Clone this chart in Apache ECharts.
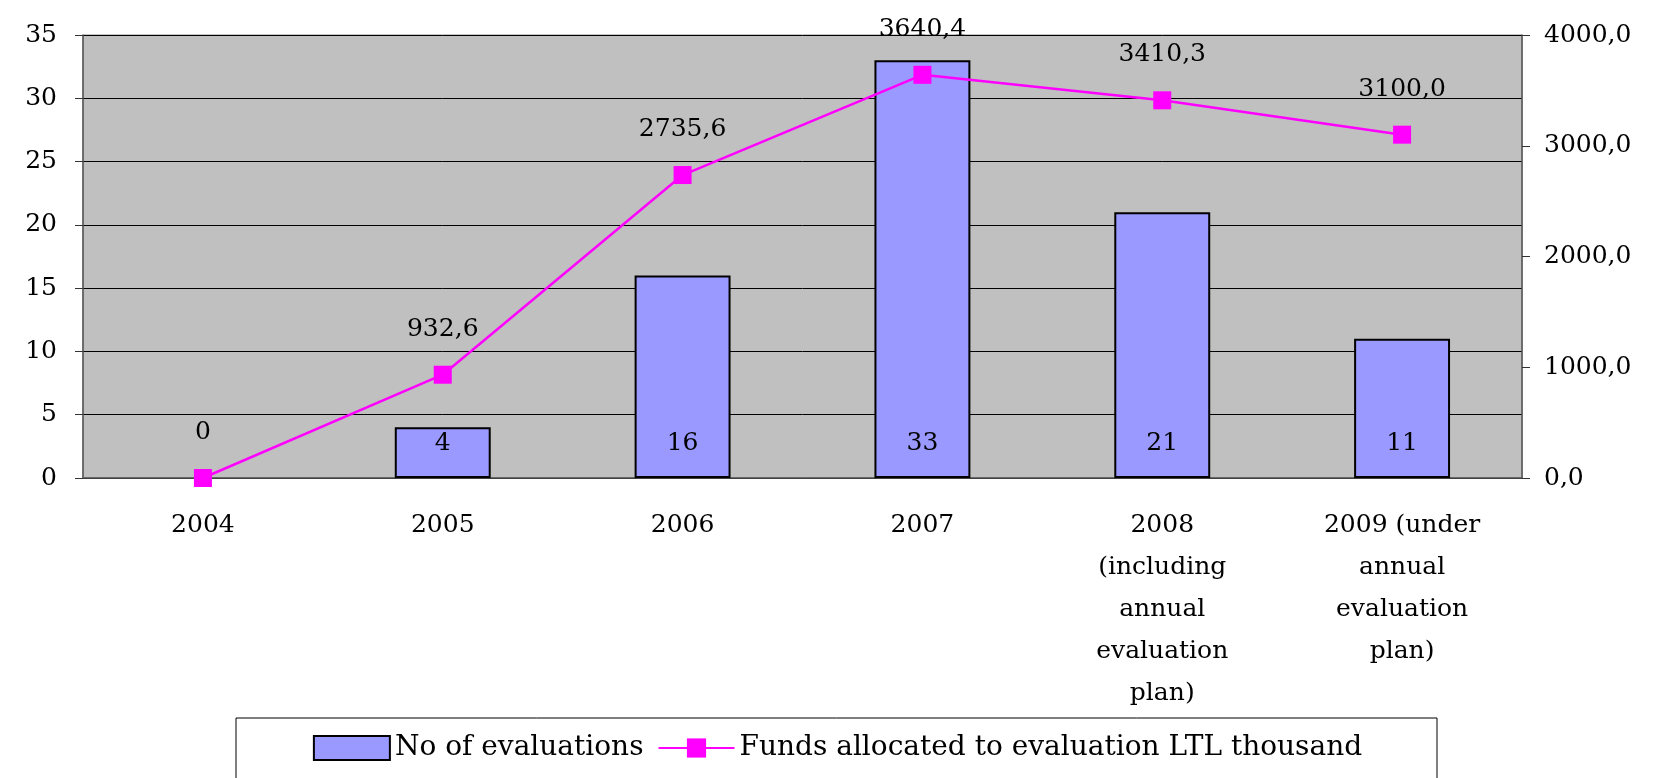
<!DOCTYPE html>
<html><head><meta charset="utf-8">
<script src="https://cdn.jsdelivr.net/npm/echarts@6/dist/echarts.min.js"></script>
<style>html,body{margin:0;padding:0;background:#fff}#c{width:1675px;height:778px}</style>
</head><body><div id="c"></div>
<script>
const categories = ['2004', '2005', '2006', '2007', '2008\n(including\nannual\nevaluation\nplan)', '2009 (under\nannual\nevaluation\nplan)'];
const evaluations = [0, 4, 16, 33, 21, 11];
const funds = [0, 932.6, 2735.6, 3640.4, 3410.3, 3100.0];
const leftTicks = {min: 0, max: 35, interval: 5};
const rightTicks = {min: 0, max: 4000, interval: 1000};

const FONT = 'DejaVu Serif';
const fmt = v => v.toFixed(1).replace('.', ',');
const chart = echarts.init(document.getElementById('c'), null, {renderer: 'canvas'});
chart.setOption({
  animation: false,
  textStyle: {fontFamily: FONT, color: '#000'},
  graphic: [{type: 'rect', shape: {x: 236, y: 718, width: 1201, height: 80}, style: {fill: '#fff', stroke: '#000', lineWidth: 1}, z: -1}],
  grid: {left: 83, right: 153, top: 35, bottom: 300, show: true, backgroundColor: '#C0C0C0', borderColor: '#8c8c8c', borderWidth: 1},
  legend: {
    left: 'center', top: 729, itemWidth: 76, itemHeight: 24, itemGap: 14,
    textStyle: {fontFamily: FONT, fontSize: 28, color: '#000'},
    data: [{name: 'No of evaluations', icon: 'rect'}, {name: 'Funds allocated to evaluation LTL thousand'}]
  },
  xAxis: {
    type: 'category', data: categories, boundaryGap: true,
    axisLine: {lineStyle: {color: '#555', width: 1.5}},
    axisTick: {length: 8, lineStyle: {color: '#333'}},
    axisLabel: {fontFamily: FONT, fontSize: 25, color: '#000', lineHeight: 42, margin: 26, interval: 0, verticalAlign: 'top'}
  },
  yAxis: [{
    type: 'value', min: leftTicks.min, max: leftTicks.max, interval: leftTicks.interval,
    axisLine: {show: true, lineStyle: {color: '#555', width: 1.5}},
    axisTick: {show: true, length: 8, lineStyle: {color: '#333'}},
    axisLabel: {fontFamily: FONT, fontSize: 25, color: '#000', margin: 26},
    splitLine: {show: true, lineStyle: {color: '#000', width: 1}}
  }, {
    type: 'value', min: rightTicks.min, max: rightTicks.max, interval: rightTicks.interval,
    axisLine: {show: true, lineStyle: {color: '#555', width: 1.5}},
    axisTick: {show: true, length: 8, lineStyle: {color: '#333'}},
    axisLabel: {fontFamily: FONT, fontSize: 25, color: '#000', margin: 22, formatter: v => fmt(v)},
    splitLine: {show: false}
  }],
  series: [{
    name: 'No of evaluations', type: 'bar', yAxisIndex: 0, barWidth: '40%',
    data: evaluations.map(v => v === 0 ? {value: v, itemStyle: {borderWidth: 0, opacity: 0}} : v),
    itemStyle: {color: '#9999FF', borderColor: '#000', borderWidth: 2},
    label: {show: true, position: 'insideBottom', distance: 22, fontFamily: FONT, fontSize: 25, color: '#000',
      formatter: p => p.value === 0 ? '' : String(p.value)}
  }, {
    name: 'Funds allocated to evaluation LTL thousand', type: 'line', data: funds, yAxisIndex: 1,
    symbol: 'rect', symbolSize: 18,
    lineStyle: {color: '#FF00FF', width: 2.5}, itemStyle: {color: '#FF00FF'},
    label: {show: true, position: 'top', distance: 24, fontFamily: FONT, fontSize: 25, color: '#000',
      formatter: p => p.value === 0 ? '0' : fmt(p.value)}
  }]
});
</script></body></html>
